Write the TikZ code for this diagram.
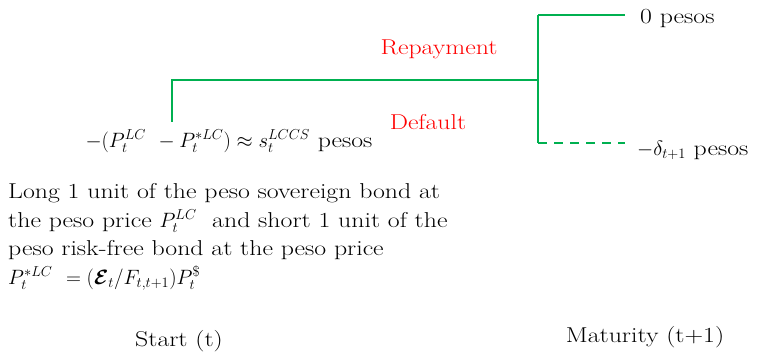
\documentclass[tikz,border=0pt]{standalone}
\usepackage{amsmath}
\usepackage{bm}
\usepackage{fontspec}
\setmainfont{Latin Modern Roman}[FakeStretch=1.2]
\usetikzlibrary{positioning,calc}
\definecolor{branchgreen}{HTML}{00B050}
\definecolor{eventred}{HTML}{FF0000}
\tikzset{
  branch/.style={draw=branchgreen, line width=2pt},
  dashbranch/.style={branch, dash pattern=on 9pt off 7pt},
  txt/.style={font=\fontsize{21.5}{28.5}\selectfont, inner sep=0pt},
  event/.style={txt, text=eventred},
  note/.style={txt, align=left}
}

\begin{document}
\begin{tikzpicture}[x=1pt, y=1pt]
\useasboundingbox (0,0) rectangle (765,354);

% Tree corners
\coordinate (root) at (172,232);
\coordinate (split) at (538,274);
\coordinate (upcorner) at (538,339);
\coordinate (downcorner) at (538,211);

% Start position
\node[txt, anchor=base] (payoff) at (229,207)
  {$-(P_t^{LC}\ -P_t^{*LC})\approx s_t^{LCCS}$ pesos};
\node[note, anchor=base west] (position) at (8,70)
  {Long 1 unit of the peso sovereign bond at\\
   the peso price $P_t^{LC}$\ \ and short 1 unit of the\\
   peso risk-free bond at the peso price\\
   $P_t^{*LC}\ =(\bm{\mathcal{E}}_t/F_{t,t+1})P_t^{\$}$};

% Outcomes at maturity
\node[txt, anchor=base west] (zero) at (640,330) {0 pesos};
\node[txt, anchor=base west] (loss) at (637,199) {$-\delta_{t+1}$ pesos};

% Events
\node[event, anchor=base] (repay) at (439,299) {Repayment};
\node[event, anchor=base] (default) at (428,225) {Default};

% Time labels
\node[txt, anchor=base] (start) at (179,8) {Start (t)};
\node[txt, anchor=base] (maturity) at (645,12) {Maturity (t+1)};

% Branches
\draw[branch] (root) |- (split);
\draw[branch] (upcorner) -- (downcorner);
\draw[branch, shorten >=15pt] (upcorner) -- (upcorner -| zero.west);
\draw[dashbranch, shorten >=12pt] (downcorner) -- (downcorner -| loss.west);

\end{tikzpicture}
\end{document}
